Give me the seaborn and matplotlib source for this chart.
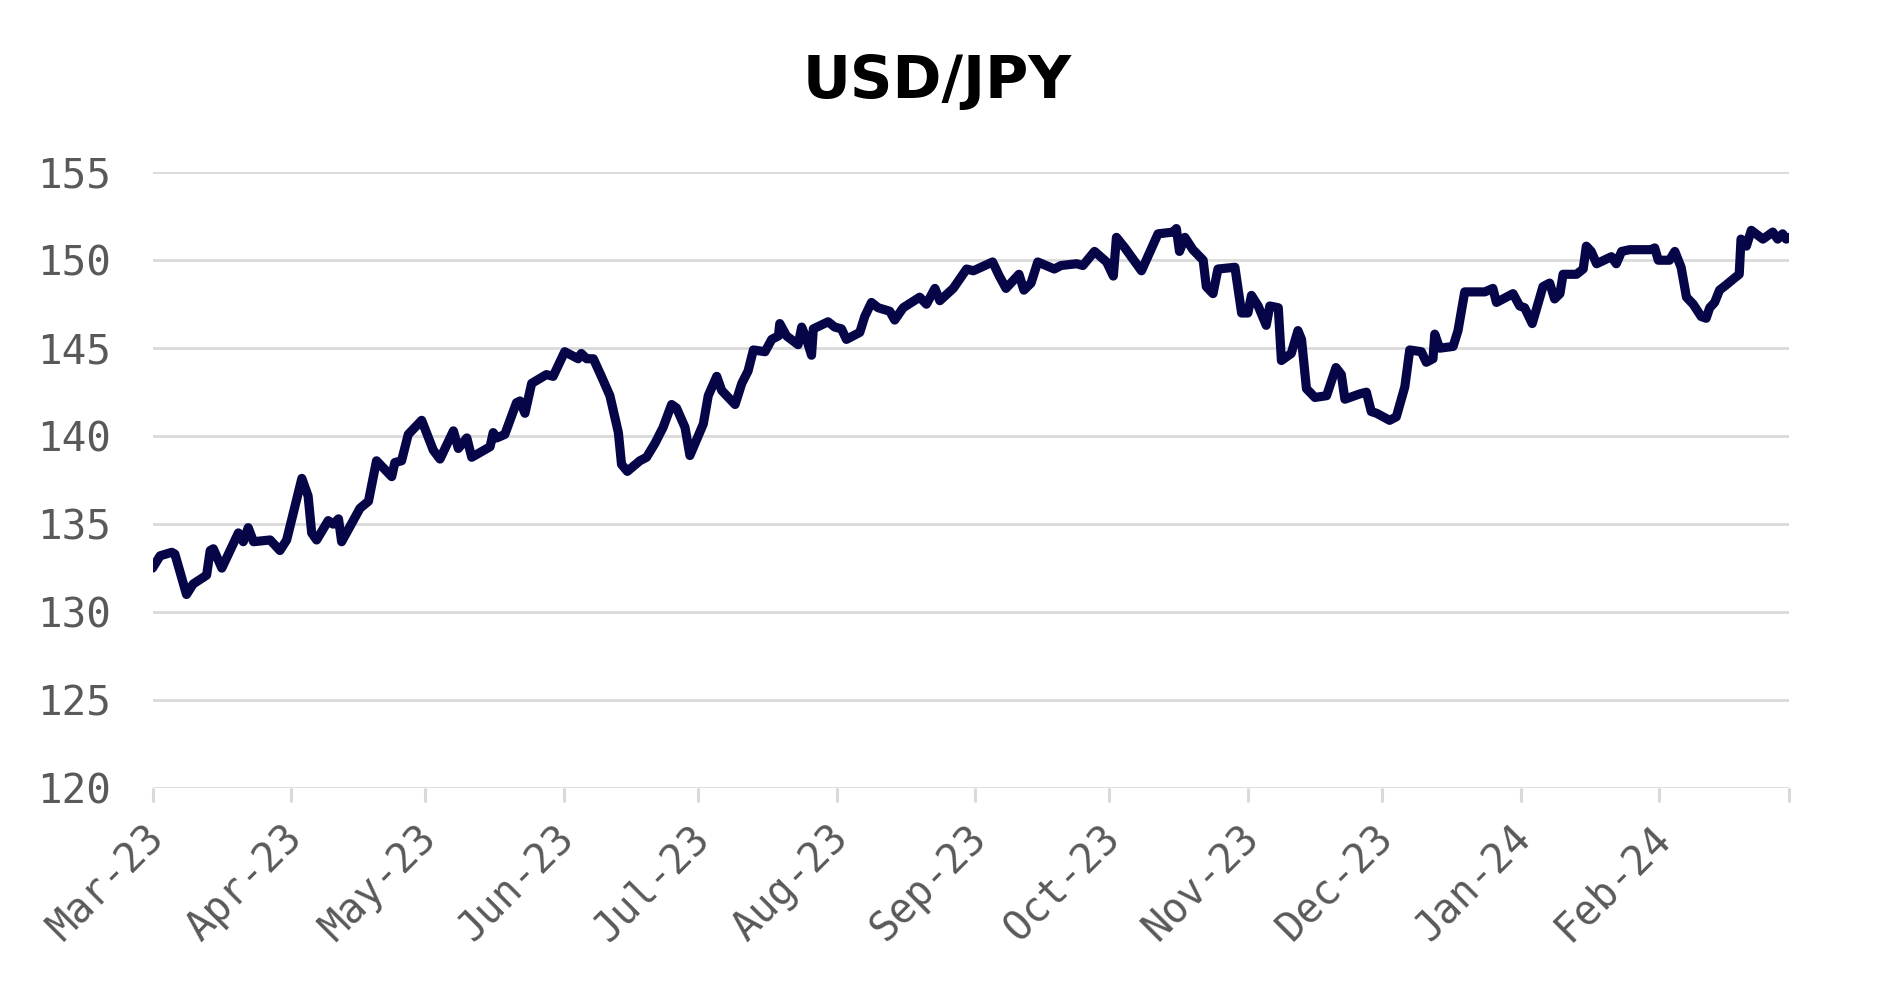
import matplotlib
matplotlib.use("Agg")
import matplotlib.pyplot as plt
import matplotlib.transforms as mtransforms
import numpy as np
import pandas as pd
import seaborn as sns

# ---- data ----
start_date = "2023-03-01"
day_offsets = [
    0.0, 1.7, 4.3, 5.0, 7.6, 9.1, 12.1, 12.9, 13.6, 15.5, 19.2, 20.3, 21.4, 22.6,
    26.3, 28.5, 30.0, 33.4, 34.8, 35.6, 36.7, 39.3, 40.4, 41.6, 42.3, 46.4, 48.3,
    50.1, 53.5, 54.2, 55.7, 57.2, 60.2, 62.8, 64.3, 67.3, 68.4, 70.3, 71.4, 75.5,
    76.2, 77.0, 78.8, 81.4, 82.2, 83.3, 84.8, 88.1, 89.6, 92.2, 95.2, 95.9, 97.1,
    98.6, 100.4, 102.3, 104.2, 104.9, 106.2, 109.0, 110.5, 112.4, 114.2, 116.1,
    117.2, 119.1, 120.2, 123.2, 124.3, 126.2, 127.3, 130.3, 131.8, 133.2, 134.4,
    137.0, 138.5, 140.0, 140.3, 141.8, 144.4, 145.2, 146.3, 147.4, 147.8, 151.1,
    152.6, 154.1, 155.2, 158.2, 159.3, 160.8, 162.3, 164.9, 166.0, 167.9, 171.6,
    173.1, 175.0, 176.1, 179.1, 182.1, 183.6, 187.9, 189.4, 190.9, 193.8, 194.9,
    196.5, 198.0, 201.7, 203.2, 206.7, 208.1, 210.7, 213.4, 214.9, 215.6, 217.5,
    221.2, 224.9, 228.3, 229.0, 229.7, 230.9, 232.7, 235.0, 235.7, 237.2, 238.3,
    242.1, 243.6, 245.0, 245.8, 247.3, 249.1, 249.9, 251.8, 252.5, 254.7, 256.2,
    257.0, 258.1, 260.0, 262.6, 264.7, 265.9, 266.7, 270.0, 271.5, 272.6, 273.8,
    276.7, 278.2, 280.1, 281.2, 283.8, 284.9, 286.4, 286.8, 287.9, 290.9, 292.0,
    293.5, 298.0, 299.8, 300.6, 304.3, 305.8, 306.9, 308.6, 311.0, 312.5, 313.6,
    314.8, 315.5, 318.5, 320.0, 320.7, 321.8, 323.0, 326.3, 327.4, 328.6, 330.4,
    333.4, 335.2, 336.0, 336.8, 339.3, 340.5, 341.9, 343.1, 344.6, 346.4, 347.5,
    348.3, 349.4, 350.5, 352.0, 353.9, 354.9, 355.3, 356.5, 357.6, 360.2, 362.4,
    363.5, 364.6, 365.4, 366.0,
]
usd_jpy = [
    132.5, 133.2, 133.4, 133.3, 131.0, 131.6, 132.1, 133.5, 133.6, 132.5, 134.5, 134.0, 134.8, 134.0,
    134.1, 133.5, 134.1, 137.6, 136.6, 134.5, 134.1, 135.2, 135.0, 135.3, 134.0, 135.9, 136.3,
    138.6, 137.7, 138.5, 138.6, 140.1, 140.9, 139.2, 138.7, 140.3, 139.3, 139.9, 138.8, 139.4,
    140.2, 139.9, 140.1, 141.9, 142.0, 141.3, 143.0, 143.5, 143.4, 144.8, 144.4, 144.7, 144.4,
    144.4, 143.4, 142.3, 140.2, 138.4, 138.0, 138.6, 138.8, 139.6, 140.5, 141.8,
    141.6, 140.5, 138.9, 140.7, 142.3, 143.4, 142.6, 141.8, 143.0, 143.7, 144.9,
    144.8, 145.5, 145.7, 146.4, 145.7, 145.2, 146.2, 145.5, 144.6, 146.1, 146.5,
    146.2, 146.1, 145.5, 145.9, 146.8, 147.6, 147.3, 147.1, 146.6, 147.3, 147.9,
    147.5, 148.4, 147.7, 148.4, 149.5, 149.4, 149.9, 149.1, 148.4, 149.2, 148.3,
    148.7, 149.9, 149.5, 149.7, 149.8, 149.7, 150.5, 149.9, 149.1, 151.3, 150.7,
    149.4, 151.5, 151.6, 151.8, 150.5, 151.3, 150.6, 150.0, 148.5, 148.1, 149.5,
    149.6, 147.0, 147.0, 148.0, 147.4, 146.3, 147.4, 147.3, 144.3, 144.7, 146.0,
    145.5, 142.7, 142.2, 142.3, 143.9, 143.5, 142.1, 142.4, 142.5, 141.4, 141.3,
    140.9, 141.1, 142.8, 144.9, 144.8, 144.2, 144.4, 145.8, 145.0, 145.1, 146.0,
    148.2, 148.2, 148.4, 147.6, 148.1, 147.4, 147.3, 146.4, 148.5, 148.7, 147.8,
    148.1, 149.2, 149.2, 149.5, 150.8, 150.5, 149.8, 150.2, 149.8, 150.5, 150.6,
    150.6, 150.6, 150.7, 150.0, 150.0, 150.5, 149.6, 147.9, 147.5, 146.8, 146.7,
    147.3, 147.6, 148.3, 148.6, 149.0, 149.2, 151.2, 150.8, 151.7, 151.2, 151.6,
    151.2, 151.5, 151.2, 151.3,
]
y_ticks = [120, 125, 130, 135, 140, 145, 150, 155]
x_range = ["2023-03-01", "2024-03-01"]
title = "USD/JPY"

df = pd.DataFrame({
    "date": pd.Timestamp(start_date) + pd.to_timedelta(day_offsets, unit="D"),
    "rate": usd_jpy,
})

# ---- style ----
sns.set_theme(style="white")
plt.rcParams["font.family"] = ["DejaVu Sans"]

LINE = "#060548"
GRID = "#d9d9d9"
TXT = "#595959"
MONO = "DejaVu Sans Mono"

fig = plt.figure(figsize=(18.83, 9.90), dpi=100)
ax = fig.add_axes([0.081, 0.204, 0.869, 0.622])

sns.lineplot(data=df, x="date", y="rate", ax=ax, color=LINE, linewidth=6.6,
             solid_capstyle="round", solid_joinstyle="round", zorder=3)

ax.set_xlim(pd.Timestamp(x_range[0]), pd.Timestamp(x_range[1]))
ax.set_ylim(y_ticks[0], y_ticks[-1])
ax.set_yticks(y_ticks)
ax.set_yticklabels([str(v) for v in y_ticks], fontfamily=MONO)

# month ticks; last one (Mar-24) gets no label
month_ticks = pd.date_range(x_range[0], x_range[1], freq="MS")
ax.set_xticks(month_ticks)
ax.set_xticklabels([d.strftime("%b-%y") if i < len(month_ticks) - 1 else ""
                    for i, d in enumerate(month_ticks)], fontfamily=MONO)

for s in ax.spines.values():
    s.set_visible(False)
ax.yaxis.grid(True, color=GRID, linewidth=1.95, zorder=0)
ax.xaxis.grid(False)
ax.set_axisbelow(True)

ax.tick_params(axis="y", length=0, pad=30, labelsize=29.5, labelcolor=TXT)
ax.tick_params(axis="x", length=10, width=2.2, color=GRID, pad=16,
               labelsize=29, labelcolor=TXT, bottom=True)

offset = mtransforms.ScaledTranslation(-9 / 100, 6 / 100, fig.dpi_scale_trans)
for lab in ax.get_xticklabels():
    lab.set_rotation(45)
    lab.set_ha("right")
    lab.set_va("top")
    lab.set_rotation_mode("anchor")
    lab.set_transform(lab.get_transform() + offset)

ax.set_xlabel("")
ax.set_ylabel("")

fig.text(0.4975, 0.9007, title, ha="center", va="baseline",
         fontsize=42.5, fontweight="bold", color="black")

fig.savefig("out.png", dpi=100, facecolor="white")
